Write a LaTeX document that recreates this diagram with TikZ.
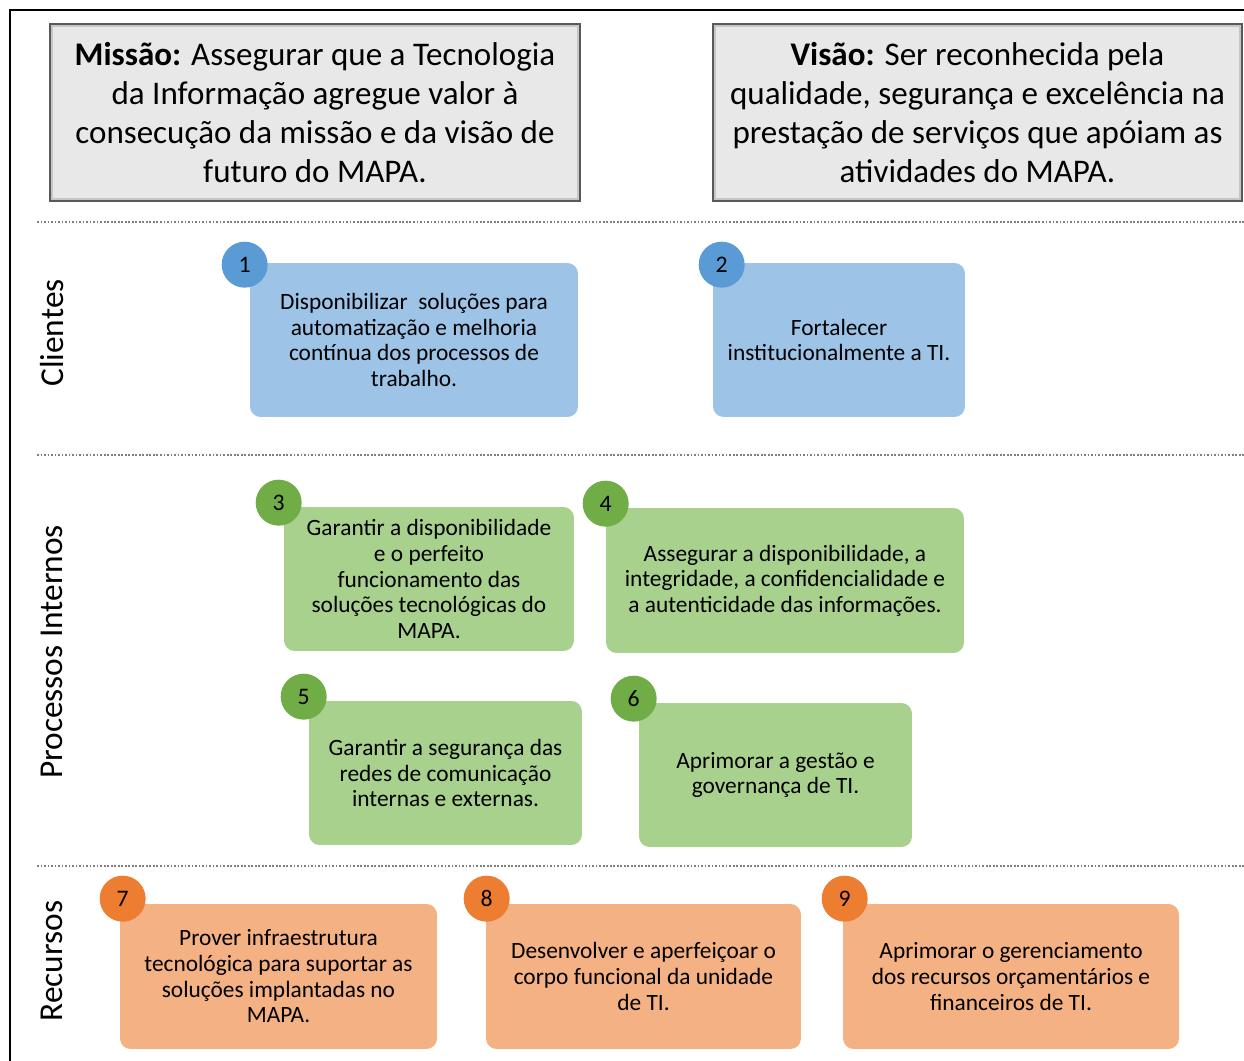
\documentclass[tikz,border=0pt]{standalone}
\usepackage{fontspec}
\setmainfont{Carlito}
\usetikzlibrary{positioning}
\definecolor{blueBox}{HTML}{9DC3E6}
\definecolor{blueDot}{HTML}{5B9BD5}
\definecolor{greenBox}{HTML}{A9D18E}
\definecolor{greenDot}{HTML}{70AD47}
\definecolor{orangeBox}{HTML}{F4B183}
\definecolor{orangeDot}{HTML}{ED7D31}
\tikzset{x=0.02cm, y=-0.02cm, % one unit is one pixel of the page, y runs down
goal/.style={rounded corners=6pt, align=center, inner sep=2pt, font=\fontsize{13.3}{14.6}\selectfont}, % the objective boxes
badge/.style={circle, minimum size=0.92cm, inner sep=0pt, font=\fontsize{13.5}{15}\selectfont}, % the numbered circles
statement/.style={draw=gray!70!black, line width=1.4pt, fill=gray!18, align=center, inner sep=2pt, font=\fontsize{18.8}{22.2}\selectfont}, % mission and vision
perspective/.style={rotate=90, font=\fontsize{19}{22}\selectfont}, % the side labels
divider/.style={gray, line width=0.8pt, dash pattern=on 1pt off 1pt}, % the dotted rules
}

\begin{document}
\begin{tikzpicture}
\useasboundingbox (0,0) rectangle (1244,1061);
\draw[line width=1.2pt] (10,1061) -- (10,10) -- (1244,10);

\node[statement, minimum width=10.6cm, minimum height=3.54cm] (missao) at (315,112.5)
{\textbf{Missão:} Assegurar que a Tecnologia\\da Informação agregue valor à\\consecução da missão e da visão de\\futuro do MAPA.};
\node[statement, minimum width=10.58cm, minimum height=3.54cm] (visao) at (977.5,112.5)
{\textbf{Visão:} Ser reconhecida pela\\qualidade, segurança e excelência na\\prestação de serviços que apóiam as\\atividades do MAPA.};
\draw[gray!45, line width=1pt] ([shift={(3,3)}]missao.north west) rectangle ([shift={(-3,-3)}]missao.south east);
\draw[gray!45, line width=1pt] ([shift={(3,3)}]visao.north west) rectangle ([shift={(-3,-3)}]visao.south east);

\coordinate (l1a) at (37,222); \coordinate (l1b) at (1244,222);
\coordinate (l2a) at (37,455); \coordinate (l2b) at (1244,455);
\coordinate (l3a) at (37,866); \coordinate (l3b) at (1244,866);
\draw[divider] (l1a) -- (l1b);
\draw[divider] (l2a) -- (l2b);
\draw[divider] (l3a) -- (l3b);

\node[perspective] (clientes) at (52,333) {Clientes};
\node[perspective] (processos) at (52,652) {Processos Internos};
\node[perspective] (recursos) at (52,961) {Recursos};

% Clientes
\node[goal, fill=blueBox, minimum width=6.56cm, minimum height=3.08cm] (o1) at (414,340)
{Disponibilizar\ \ soluções para\\automatização e melhoria\\contínua dos processos de\\trabalho.};
\node[goal, fill=blueBox, minimum width=5.04cm, minimum height=3.08cm] (o2) at (839,340)
{Fortalecer\\institucionalmente a TI.};
\node[badge, fill=blueDot] (n1) at ([shift={(-5,2)}]o1.north west) {1};
\node[badge, fill=blueDot] (n2) at ([shift={(9,2)}]o2.north west) {2};

% Processos Internos
\node[goal, fill=greenBox, minimum width=5.8cm, minimum height=2.88cm] (o3) at (429,579)
{Garantir a disponibilidade\\e o perfeito\\funcionamento das\\soluções tecnológicas do\\MAPA.};
\node[goal, fill=greenBox, minimum width=7.16cm, minimum height=2.9cm] (o4) at (785,580.5)
{Assegurar a disponibilidade, a\\integridade, a confidencialidade e\\a autenticidade das informações.};
\node[goal, fill=greenBox, minimum width=5.46cm, minimum height=2.88cm] (o5) at (445.5,773)
{Garantir a segurança das\\redes de comunicação\\internas e externas.};
\node[goal, fill=greenBox, minimum width=5.46cm, minimum height=2.88cm] (o6) at (775.5,775)
{Aprimorar a gestão e\\governança de TI.};
\node[badge, fill=greenDot] (n3) at ([shift={(-5,-4)}]o3.north west) {3};
\node[badge, fill=greenDot] (n4) at ([shift={(0,-4)}]o4.north west) {4};
\node[badge, fill=greenDot] (n5) at ([shift={(-5,-4)}]o5.north west) {5};
\node[badge, fill=greenDot] (n6) at ([shift={(-5,-4)}]o6.north west) {6};

% Recursos
\node[goal, fill=orangeBox, minimum width=6.34cm, minimum height=2.9cm] (o7) at (278.5,976.5)
{Prover infraestrutura\\tecnológica para suportar as\\soluções implantadas no\\MAPA.};
\node[goal, fill=orangeBox, minimum width=6.3cm, minimum height=2.9cm] (o8) at (643.5,976.5)
{Desenvolver e aperfeiçoar o\\corpo funcional da unidade\\de TI.};
\node[goal, fill=orangeBox, minimum width=6.72cm, minimum height=2.9cm] (o9) at (1011,976.5)
{Aprimorar o gerenciamento\\dos recursos orçamentários e\\financeiros de TI.};
\node[badge, fill=orangeDot] (n7) at ([shift={(3,-5)}]o7.north west) {7};
\node[badge, fill=orangeDot] (n8) at ([shift={(1,-5)}]o8.north west) {8};
\node[badge, fill=orangeDot] (n9) at ([shift={(2,-5)}]o9.north west) {9};
\end{tikzpicture}
\end{document}
